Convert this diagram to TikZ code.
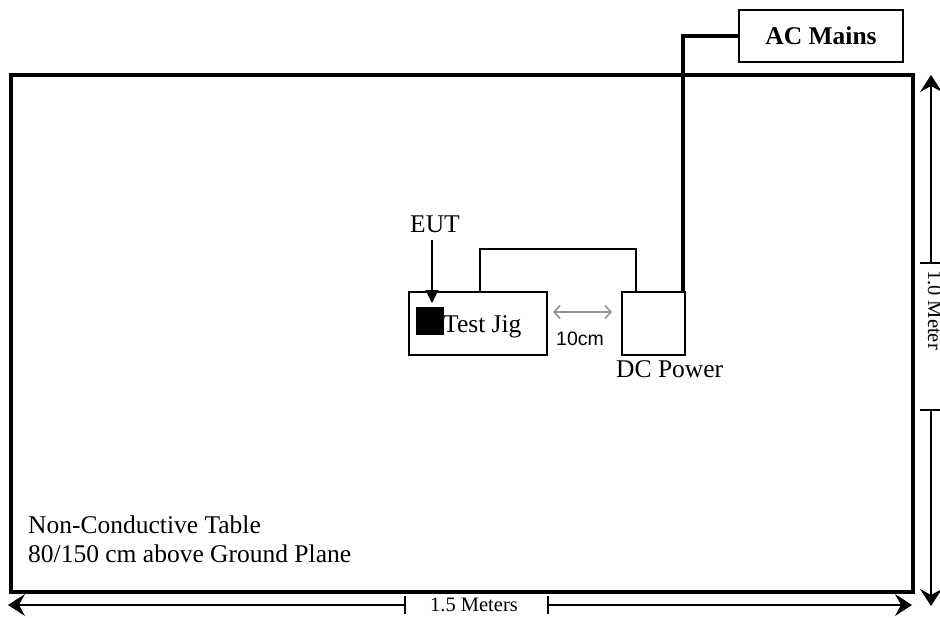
\documentclass[tikz,border=0pt]{standalone}
\usepackage{fontspec}
\setmainfont{Liberation Serif}
\newfontfamily\arialfont{Liberation Sans}
\usetikzlibrary{arrows.meta}
\begin{document}
\begin{tikzpicture}[x=1pt,y=-1pt,
  box/.style={draw, line width=2pt, inner sep=0pt},
  lbl/.style={inner sep=0pt, font=\fontsize{25.5}{29}\selectfont},
  small/.style={inner sep=0pt, font=\fontsize{20.5}{24}\selectfont},
  dimline/.style={line width=1.2pt},
  bigtip/.style={-{Stealth[length=17pt,width=22pt,inset=6pt]}},
  cable/.style={line width=3.3pt},
  wire/.style={line width=2pt}]
\useasboundingbox (0,0) rectangle (940,618);
% table
\coordinate (tnw) at (11,75);
\coordinate (tse) at (913,592);
\draw[line width=3.3pt] (tnw) rectangle (tse);
% boxes
\node[box, minimum width=138pt, minimum height=63pt, anchor=north west] (jig) at (408,291) {};
\node[box, minimum width=63pt, minimum height=63pt, anchor=north west] (dc) at (621,291) {};
\node[box, minimum width=164pt, minimum height=52pt, anchor=north west,
      font=\fontsize{25.5}{29}\selectfont\bfseries] (ac) at (738,9) {AC Mains};
% EUT
\node[fill=black, inner sep=0pt, minimum width=28pt, minimum height=28pt, anchor=north west] (sq) at (416,307) {};
\node[lbl, anchor=base] (eut) at (435,232) {EUT};
\coordinate (eutA) at (432,240);
\coordinate (eutB) at (432,303);
\draw[line width=1.3pt, -{Triangle[length=13pt,width=13pt]}] (eutA) -- (eutB);
\node[lbl, anchor=base west] (jigt) at (443,332) {Test Jig};
% wires
\draw[wire] ([xshift=72pt]jig.north west) |- ([xshift=15pt,yshift=42pt]dc.north west) -- ([xshift=15pt]dc.north west);
\draw[cable] (ac.west) -| ([xshift=-3pt]dc.north east);
% 10 cm
\coordinate (ga) at (553,312);
\coordinate (gb) at (612,312);
\draw[color=black!42, line width=1.6pt, {Straight Barb[length=6pt,width=13pt]}-{Straight Barb[length=6pt,width=13pt]}] (ga) -- (gb);
\node[inner sep=0pt, font=\arialfont\fontsize{19.5}{22}\selectfont, anchor=base] (tencm) at (580,345) {10cm};
\node[lbl, anchor=base west] (dct) at (616,377) {DC Power};
% table text
\node[lbl, anchor=base west] (tabt1) at (28,533) {Non-Conductive Table};
\node[lbl, anchor=base west] (tabt2) at (28,562) {80/150 cm above Ground Plane};
% bottom dimension
\coordinate (bl1) at (405,596); \coordinate (bl2) at (405,614);
\coordinate (br1) at (548,596); \coordinate (br2) at (548,614);
\coordinate (bL) at (8,605); \coordinate (bR) at (912,605);
\draw[dimline] (bl1) -- (bl2);
\draw[dimline] (br1) -- (br2);
\draw[dimline, bigtip] (bl1 |- bL) -- (bL);
\draw[dimline, bigtip] (br1 |- bR) -- (bR);
\node[small, anchor=base] (bt) at (474,611) {1.5 Meters};
% right dimension
\coordinate (rt1) at (920,263); \coordinate (rt2) at (940,263);
\coordinate (rb1) at (920,410); \coordinate (rb2) at (940,410);
\coordinate (rT) at (931,75); \coordinate (rB) at (931,606);
\draw[dimline] (rt1) -- (rt2);
\draw[dimline] (rb1) -- (rb2);
\draw[dimline, bigtip] (rT |- rt1) -- (rT);
\draw[dimline, bigtip] (rB |- rb1) -- (rB);
\node[small, rotate=-90, anchor=base] (rtext) at (928,310) {1.0 Meter};
\end{tikzpicture}
\end{document}
